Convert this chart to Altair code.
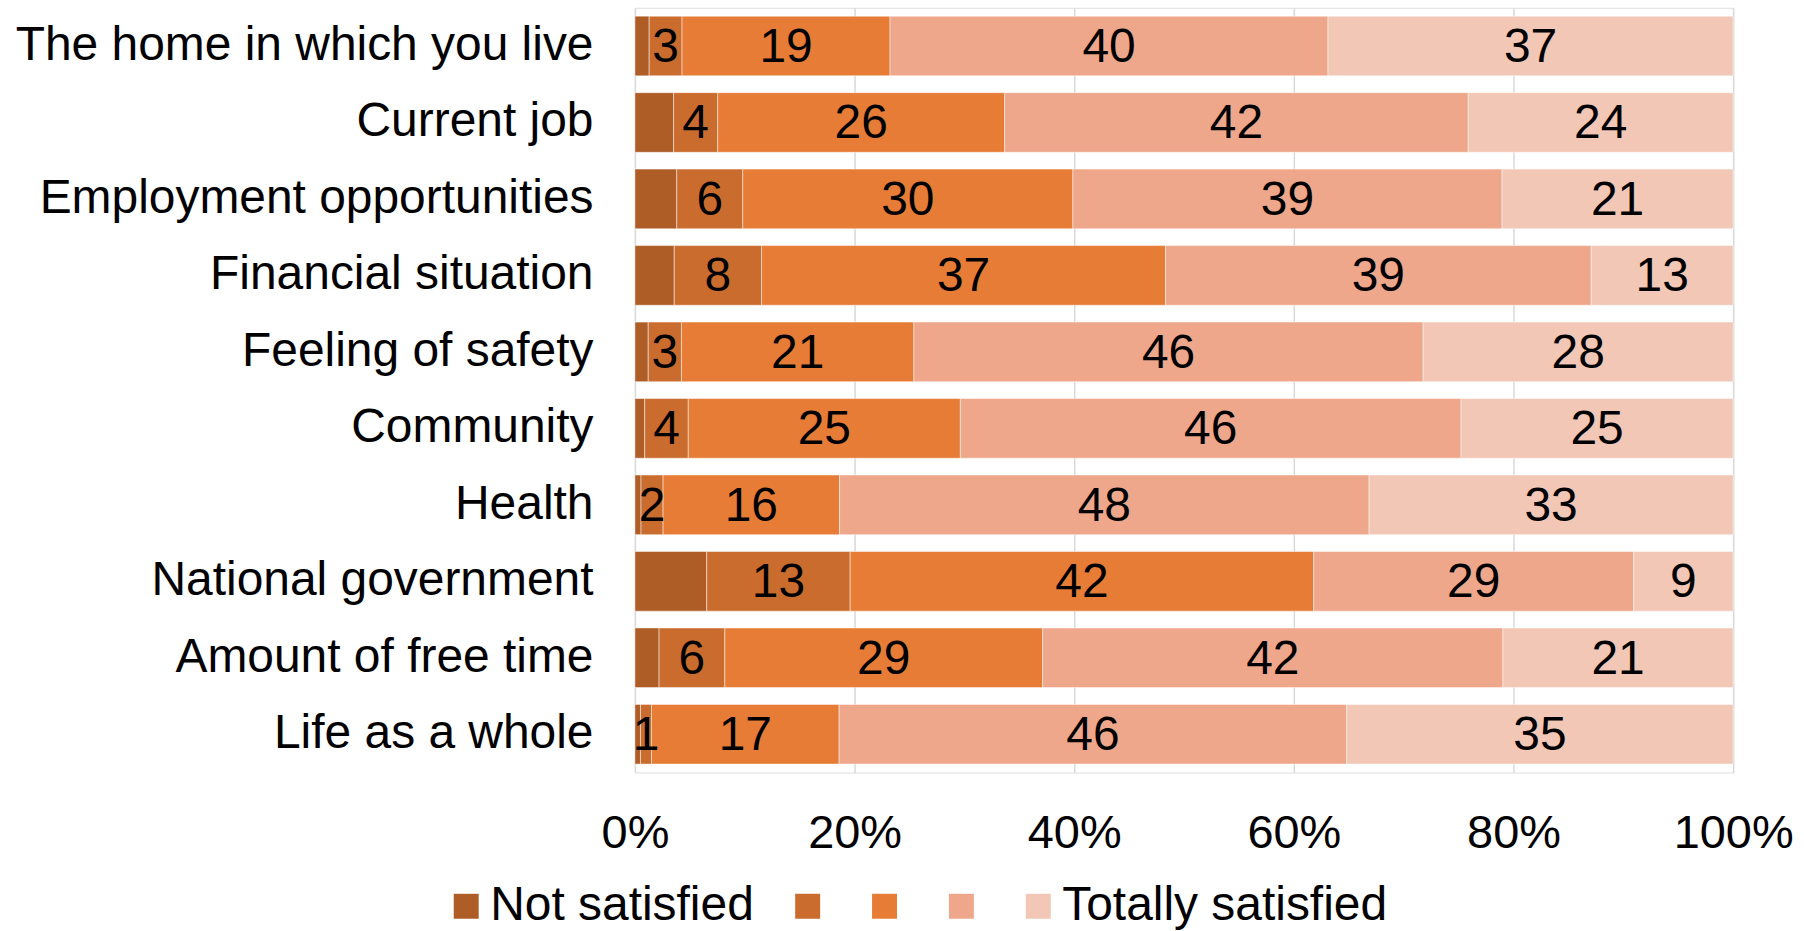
import altair as alt
import pandas as pd

categories = [
    "The home in which you live",
    "Current job",
    "Employment opportunities",
    "Financial situation",
    "Feeling of safety",
    "Community",
    "Health",
    "National government",
    "Amount of free time",
    "Life as a whole",
]
levels = ["Not satisfied", "Level 2", "Level 3", "Level 4", "Totally satisfied"]
not_satisfied = [1.3, 3.5, 3.8, 3.6, 1.2, 0.9, 0.55, 6.5, 2.2, 0.5]
level2 = [3, 4, 6, 8, 3, 4, 2, 13, 6, 1]
level3 = [19, 26, 30, 37, 21, 25, 16, 42, 29, 17]
level4 = [40, 42, 39, 39, 46, 46, 48, 29, 42, 46]
totally = [37, 24, 21, 13, 28, 25, 33, 9, 21, 35]
colors = ["#AE5D27", "#CB6C2F", "#E77C36", "#EEA78B", "#F2C7B6"]

series = [not_satisfied, level2, level3, level4, totally]
rows = []
for ci, cat in enumerate(categories):
    for li, lev in enumerate(levels):
        v = series[li][ci]
        rows.append({
            "category": cat,
            "level": lev,
            "order": li,
            "value": v,
            "label": "" if li == 0 else str(int(round(v))),
        })
df = pd.DataFrame(rows)

FONT = "Liberation Sans"

base = alt.Chart(df).transform_stack(
    stack="value",
    groupby=["category"],
    sort=[alt.SortField("order", order="ascending")],
    as_=["v0", "v1"],
    offset="normalize",
).transform_calculate(mid="(datum.v0 + datum.v1) / 2")

y_enc = alt.Y(
    "category:N",
    sort=categories,
    scale=alt.Scale(paddingInner=0.22, paddingOuter=0.11),
    axis=alt.Axis(
        title=None, domain=False, ticks=False, tickSize=0, labelPadding=42,
        labelFontSize=48, labelColor="black", labelFont=FONT, labelLimit=800,
    ),
)

legend_expr = "datum.label == 'Not satisfied' || datum.label == 'Totally satisfied' ? datum.label : ''"

bars = base.mark_bar(stroke="white", strokeWidth=0.8, strokeOpacity=0.6).encode(
    y=y_enc,
    x=alt.X(
        "v0:Q",
        scale=alt.Scale(domain=[0, 1], nice=False),
        axis=alt.Axis(
            title=None, format="%", values=[0, 0.2, 0.4, 0.6, 0.8, 1.0],
            domain=False, ticks=False, tickSize=0, labelPadding=38,
            labelFontSize=47, labelColor="black", labelFont=FONT,
            labelFlush=False,
            grid=True, gridColor="#D9D9D9", gridWidth=1.5,
        ),
    ),
    x2="v1:Q",
    color=alt.Color(
        "level:N",
        sort=levels,
        scale=alt.Scale(domain=levels, range=colors),
        legend=alt.Legend(
            title=None, orient="none", direction="horizontal",
            legendX=-193, legendY=876,
            symbolType="square", symbolSize=625, symbolStrokeWidth=0,
            labelFontSize=48, labelFont=FONT, labelColor="black",
            labelOffset=0, columnPadding=29, labelLimit=600,
            labelExpr=legend_expr,
        ),
    ),
    order=alt.Order("order:Q"),
)

texts = base.transform_filter("datum.order > 0").mark_text(
    fontSize=48, font=FONT, color="black", align="center", baseline="middle", dy=2
).encode(
    y=alt.Y("category:N", sort=categories),
    x=alt.X("mid:Q"),
    text="label:N",
)

chart = (bars + texts).properties(
    width=1100,
    height=766,
    padding={"left": 15, "top": 7, "right": 10, "bottom": 5},
).configure_view(stroke=None).configure(font=FONT)

chart.save("out.html", embed_options={"renderer": "svg", "actions": False})
